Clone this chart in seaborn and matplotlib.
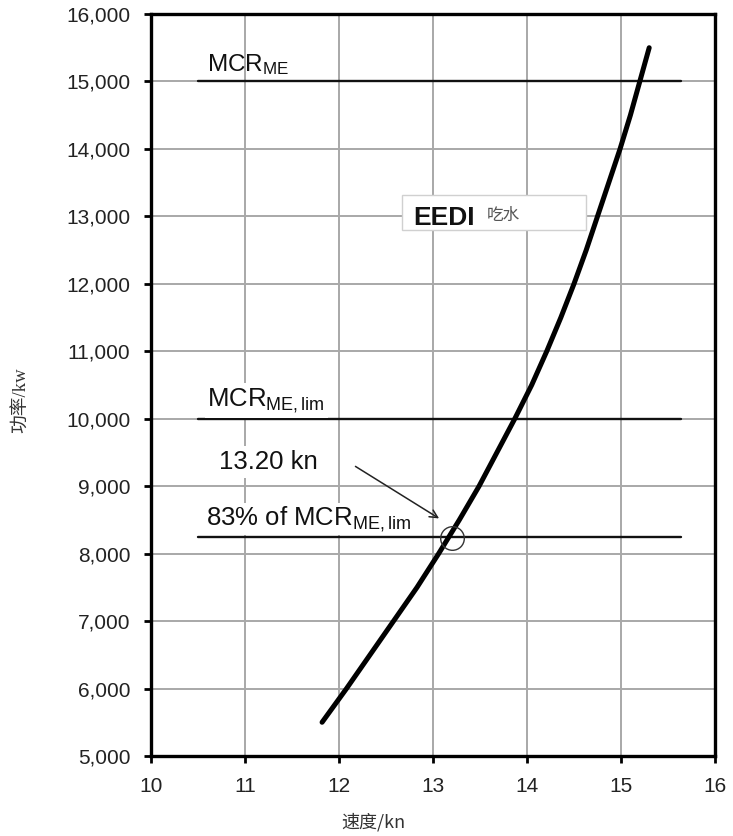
import matplotlib
matplotlib.use("Agg")
import matplotlib.pyplot as plt
import seaborn as sns
import pandas as pd
from matplotlib.patches import Rectangle
from matplotlib.ticker import FuncFormatter

# ---- data ----
speed = [11.82, 12.08, 12.33, 12.58, 12.83, 13.06, 13.28, 13.49, 13.68, 13.87, 14.05,
         14.21, 14.36, 14.50, 14.63, 14.75, 14.87, 14.99, 15.10, 15.20, 15.30]
power = [5500, 6000, 6500, 7000, 7500, 8000, 8500, 9000, 9500, 10000, 10500,
         11000, 11500, 12000, 12500, 13000, 13500, 14000, 14500, 15000, 15500]
mcr_me = 15000
mcr_me_lim = 10000
mcr_83 = 8250
ref_x = [10.5, 15.64]
op_speed = 13.20
op_power = 8230
x_ticks = [10, 11, 12, 13, 14, 15, 16]
y_ticks = list(range(5000, 16001, 1000))

sns.set_style("ticks")
plt.rcParams['font.family'] = ['Liberation Sans', 'Noto Sans CJK SC', 'DejaVu Sans']
plt.rcParams['mathtext.fontset'] = 'custom'
plt.rcParams['mathtext.rm'] = 'Liberation Sans'
plt.rcParams['mathtext.it'] = 'Liberation Sans'

fig = plt.figure(figsize=(7.33, 8.36), dpi=100)
ax = fig.add_axes([151/733, 80/836, 564/733, 742/836])

df = pd.DataFrame({"speed": speed, "power": power})
ax.set_xlim(10, 16)
ax.set_ylim(5000, 16000)
ax.set_xticks(x_ticks)
ax.set_yticks(y_ticks)
ax.grid(True, color='#a8a8a8', lw=1.4, zorder=0)
ax.set_axisbelow(True)

# reference lines
for yv in (mcr_me, mcr_me_lim, mcr_83):
    ax.plot(ref_x, [yv, yv], color='#111111', lw=1.7, zorder=3)

# curve
sns.lineplot(data=df, x="speed", y="power", sort=False, color='black', lw=3.6,
             ax=ax, zorder=5, solid_capstyle='round', solid_joinstyle='round')

# labels
ax.text(10.6, 15070, r"MCR$_{\mathrm{ME}}$", fontsize=17.5, color='#111', va='bottom', ha='left', zorder=4)
ax.text(10.6, 10060, r"MCR$_{\mathrm{ME,lim}}$", fontsize=18.5, color='#111', va='bottom', ha='left',
        bbox=dict(facecolor='white', edgecolor='none', pad=2), zorder=4)
ax.text(10.58, 8290, r"83% of MCR$_{\mathrm{ME,lim}}$", fontsize=18.5, color='#111', va='bottom', ha='left',
        bbox=dict(facecolor='white', edgecolor='none', pad=1), zorder=4)
ax.text(10.72, 9250, "13.20 kn", fontsize=18.5, color='#111', va='baseline', ha='left',
        bbox=dict(facecolor='white', edgecolor='none', pad=3), zorder=4)

ax.annotate('', xy=(13.09, 8500), xytext=(12.15, 9315),
            arrowprops=dict(arrowstyle='->', lw=1.1, color='#222', mutation_scale=14), zorder=6)
ax.plot([op_speed], [op_power], marker='o', ms=17, mfc='none', mec='#333', mew=1.0, zorder=6)

# EEDI box
ax.add_patch(Rectangle((12.67, 12800), 14.63 - 12.67, 13317 - 12800, facecolor='white',
                       edgecolor='#d0d0d0', lw=1, zorder=4))
ax.text(12.79, 12870, "EEDI", fontsize=19, fontweight='bold', color='#111', va='baseline', ha='left', zorder=5)
ax.text(13.57, 13020, "吃水", fontsize=12, color='#555', va='center', ha='left',
        family=['Noto Sans CJK SC', 'DejaVu Sans'], zorder=5)

# axes styling
for s in ax.spines.values():
    s.set_visible(True)
    s.set_color('black')
    s.set_linewidth(2.4)
ax.tick_params(axis='both', direction='out', length=5, width=2, color='black',
               labelsize=15, labelcolor='#222')
ax.tick_params(axis='y', pad=10)
ax.tick_params(axis='x', pad=10)
ax.yaxis.set_major_formatter(FuncFormatter(lambda v, p: f"{int(v):,}"))

ax.set_xlabel("速度/kn", fontsize=13, color='#333', family=['Noto Sans CJK SC', 'DejaVu Sans'])
ax.set_ylabel("功率/kw", fontsize=13.5, color='#333', family=['Liberation Serif', 'Noto Sans CJK SC'])
ax.xaxis.set_label_coords(0.394, -0.077)
ax.yaxis.set_label_coords(-0.215, 0.48)

fig.savefig("out.png", dpi=100)
